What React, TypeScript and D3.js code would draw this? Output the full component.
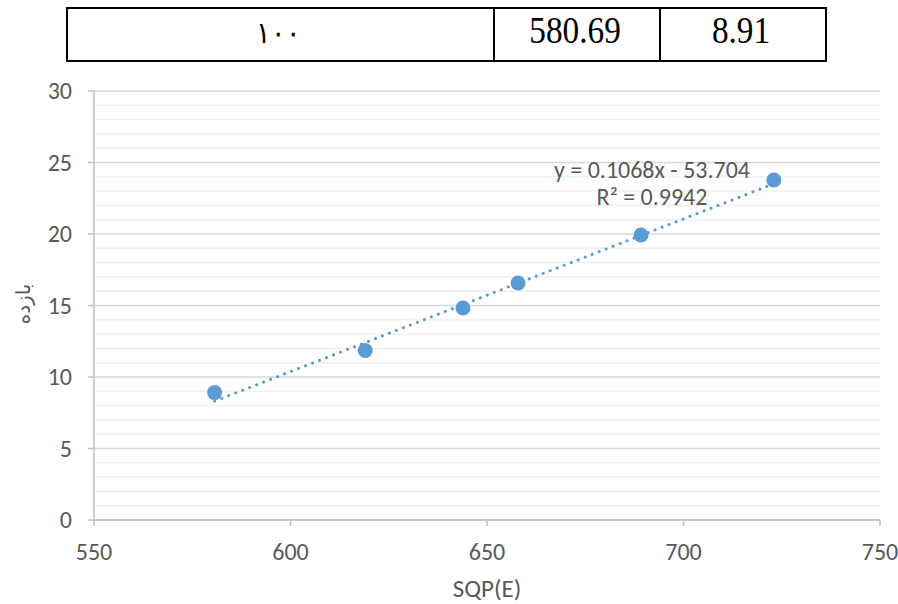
import React from "react";
import * as d3 from "d3";

const xValues = [580.69, 619.0, 643.9, 657.9, 689.2, 723.0];
const yValues = [8.91, 11.85, 14.83, 16.57, 19.93, 23.78];
const xTicks = [550, 600, 650, 700, 750];
const yTicks = [0, 5, 10, 15, 20, 25, 30];
const slope = 0.1068;
const intercept = -53.704;
const tableCells = ["١٠٠", "580.69", "8.91"];

const W = 898, H = 604;
const left = 94, right = 880, top = 91, bottom = 520;
const FONT = "Carlito, 'Open Sans', 'Liberation Sans', sans-serif";

export default function App() {
  const x = d3.scaleLinear().domain([550, 750]).range([left, right]);
  const y = d3.scaleLinear().domain([0, 30]).range([bottom, top]);
  const minor = d3.range(0, 31, 1);
  const xs = d3.extent(xValues) as [number, number];
  const line = d3.line<number>().x((d) => x(d)).y((d) => y(slope * d + intercept));
  const cellX = [67, 494, 660, 826];
  return (
    <svg width={W} height={H} style={{ position: "absolute", left: 0, top: 0, background: "#fff" }}>
      {/* table */}
      <rect x={67} y={8} width={759} height={53} fill="none" stroke="#000" strokeWidth={2} />
      <line x1={494} x2={494} y1={8} y2={61} stroke="#000" strokeWidth={2} />
      <line x1={660} x2={660} y1={8} y2={61} stroke="#000" strokeWidth={2} />
      {tableCells.map((t, i) => (
        <text key={i} transform={`translate(${(cellX[i] + cellX[i + 1]) / 2 - 2},43) scale(0.9,1)`} textAnchor="middle"
          fontFamily="'Liberation Serif', 'Times New Roman', serif" fontSize={i === 0 ? 30 : 37} fill="#000">{t}</text>
      ))}
      {/* gridlines */}
      {minor.map((v) => (
        <line key={"m" + v} x1={left} x2={right} y1={y(v)} y2={y(v)}
          stroke={v % 5 === 0 ? "#d9d9d9" : "#f0f0f0"} strokeWidth={1.5} />
      ))}
      {/* axes */}
      <line x1={left} x2={left} y1={top} y2={bottom} stroke="#bfbfbf" strokeWidth={1.5} />
      <line x1={left} x2={right} y1={bottom} y2={bottom} stroke="#bfbfbf" strokeWidth={1.5} />
      {yTicks.map((v) => (
        <g key={"y" + v}>
          <line x1={left - 6} x2={left} y1={y(v)} y2={y(v)} stroke="#bfbfbf" strokeWidth={1.5} />
          <text x={left - 22} y={y(v) + 8} textAnchor="end" fontFamily={FONT} fontSize={24} fill="#595959">{v}</text>
        </g>
      ))}
      {xTicks.map((v) => (
        <g key={"x" + v}>
          <line x1={x(v)} x2={x(v)} y1={bottom} y2={bottom + 6} stroke="#bfbfbf" strokeWidth={1.5} />
          <text x={x(v)} y={560} textAnchor="middle" fontFamily={FONT} fontSize={24} fill="#595959">{v}</text>
        </g>
      ))}
      <text x={(left + right) / 2} y={597} textAnchor="middle" fontFamily={FONT} fontSize={25} fill="#595959">SQP(E)</text>
      <text transform={`translate(30,304) rotate(-90)`} textAnchor="middle" fontFamily="'DejaVu Sans', 'Noto Sans', sans-serif" fontSize={20} fill="#595959">بازده</text>
      {/* trendline */}
      <path d={line([xs[0], xs[1]]) || ""} stroke="#5B9BD5" strokeWidth={3} strokeDasharray="0.1 7.4" strokeLinecap="round" fill="none" />
      {/* points */}
      {xValues.map((v, i) => (
        <circle key={i} cx={x(v)} cy={y(yValues[i])} r={7.5} fill="#5B9BD5" />
      ))}
      {/* equation */}
      <text x={652} y={178} textAnchor="middle" fontFamily={FONT} fontSize={24} fill="#595959">y = 0.1068x - 53.704</text>
      <text x={652} y={205} textAnchor="middle" fontFamily={FONT} fontSize={24} fill="#595959">R² = 0.9942</text>
    </svg>
  );
}
